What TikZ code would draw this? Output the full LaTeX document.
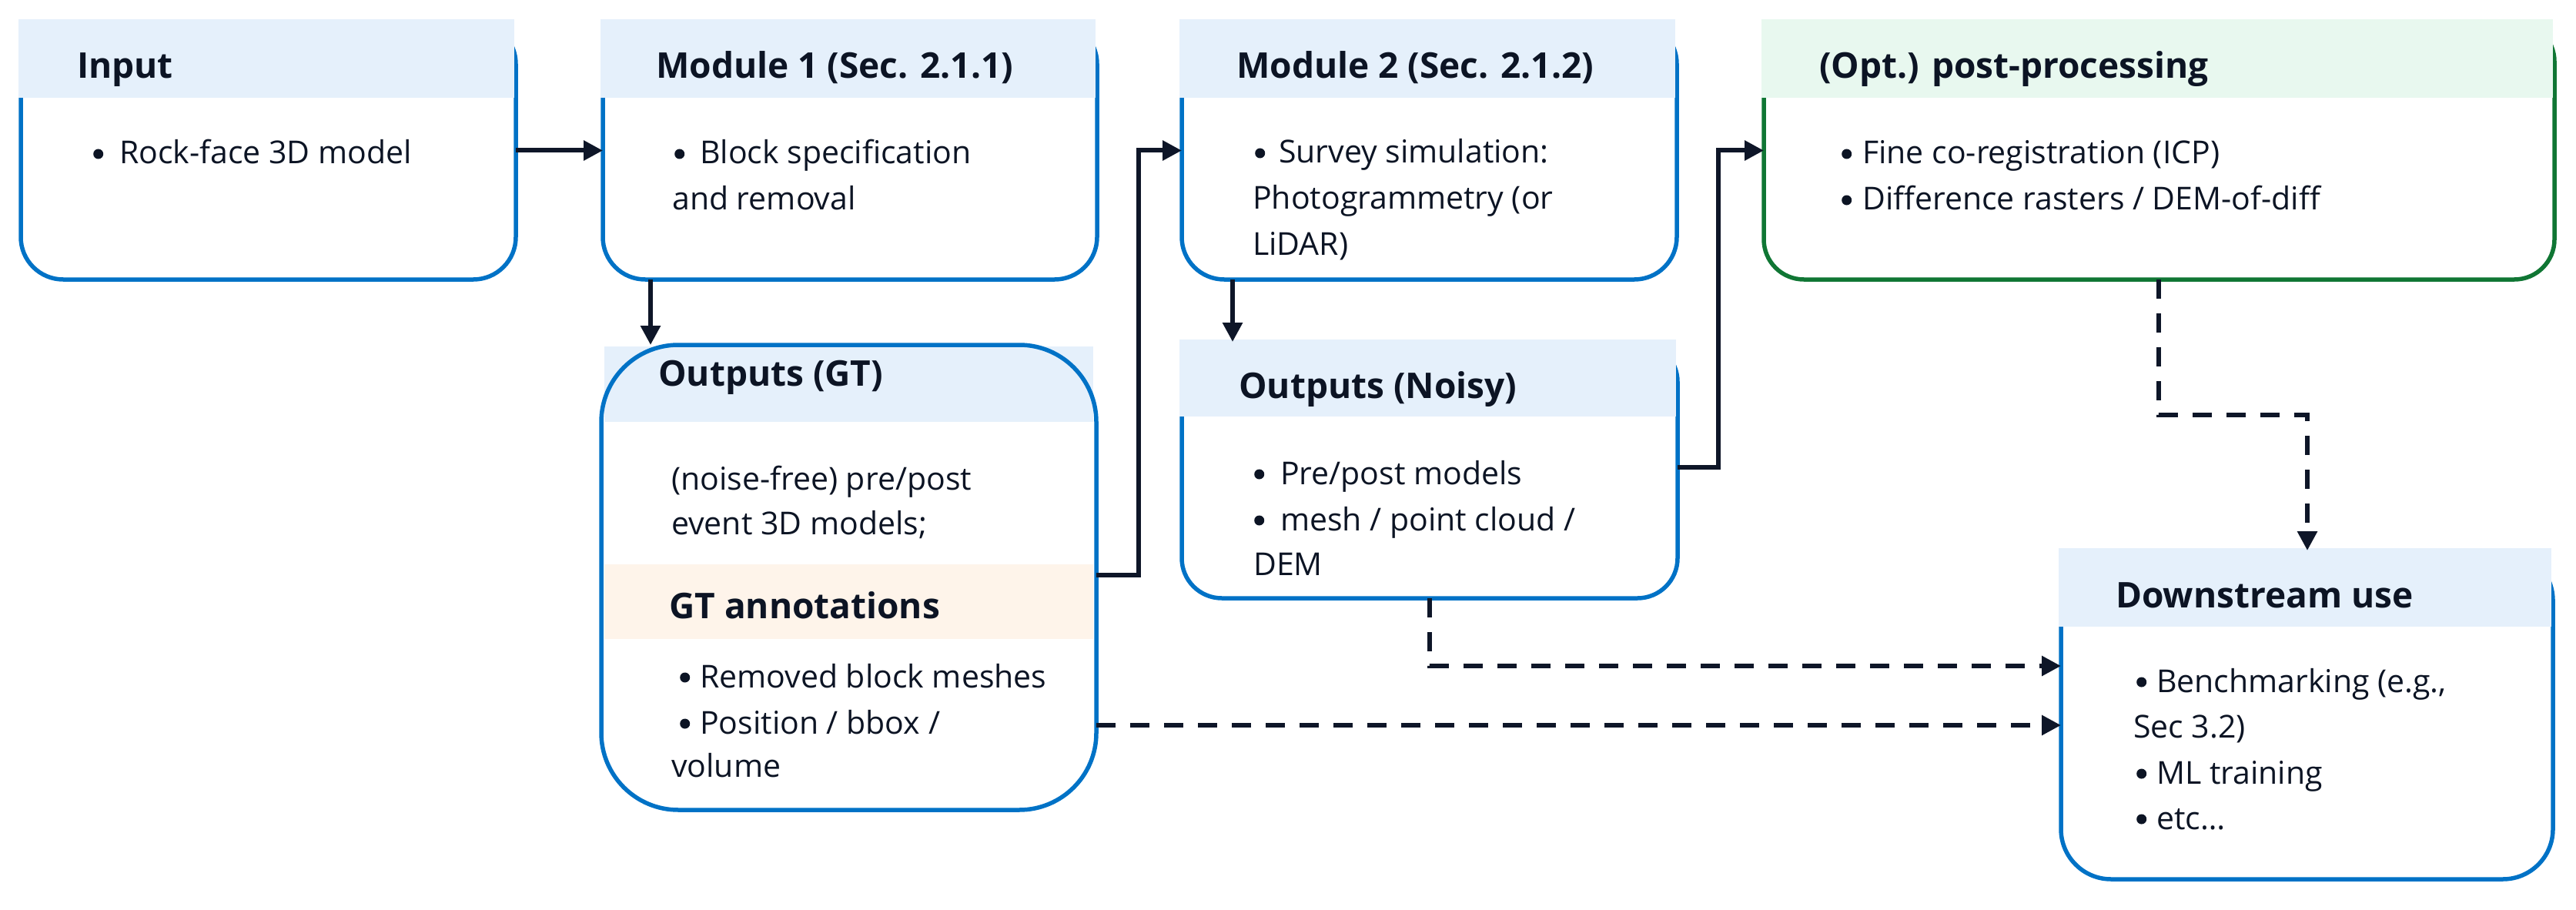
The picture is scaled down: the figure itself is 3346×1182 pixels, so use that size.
\documentclass[tikz,border=0pt]{standalone}
\usepackage{fontspec}
\setmainfont{Open Sans}
\usetikzlibrary{arrows.meta}
\definecolor{navy}{RGB}{14,22,40}
\definecolor{bblue}{RGB}{0,114,198}
\definecolor{bgreen}{RGB}{16,118,52}
\definecolor{hblue}{RGB}{229,240,251}
\definecolor{hgreen}{RGB}{232,248,239}
\definecolor{horange}{RGB}{254,244,234}
\definecolor{txt}{RGB}{12,20,36}
\newcommand\bul[1]{\makebox[#1pt][l]{\hspace{4pt}\raisebox{13pt}{\tikz[baseline=0pt]\fill[txt] (0pt,0pt) circle (6.5pt);}}}
\begin{document}
\begin{tikzpicture}[x=1pt,y=-1pt,
  bbox/.style={draw=bblue, line width=5.5pt, rectangle, inner sep=0pt, outer sep=0pt, anchor=north west},
  gbox/.style={bbox, draw=bgreen},
  hd/.style={anchor=base west, inner sep=0pt, text=txt, font=\fontsize{46pt}{60pt}\selectfont\bfseries},
  bd/.style={anchor=base west, inner sep=0pt, text=txt, font=\fontsize{41pt}{60pt}\selectfont},
  conn/.style={draw=navy, line width=6pt, -{Triangle[length=25pt,width=25pt]}},
  dconn/.style={conn, dash pattern=on 25pt off 19pt}]
\useasboundingbox (0,0) rectangle (3346,1182);

% ---- boxes with header bands
\node[bbox, rounded corners=55pt, minimum width=643pt, minimum height=335pt] (input) at (27,28) {};
\fill[hblue] (24,25) rectangle (668,127);
\node[bbox, rounded corners=55pt, minimum width=642pt, minimum height=335pt] (mod1) at (783,28) {};
\fill[hblue] (780,25) rectangle (1423,127);
\node[bbox, rounded corners=55pt, minimum width=643pt, minimum height=335pt] (mod2) at (1535,28) {};
\fill[hblue] (1532,25) rectangle (2176,127);
\node[gbox, rounded corners=52pt, minimum width=1027pt, minimum height=335pt] (opt) at (2291,28) {};
\fill[hgreen] (2288,25) rectangle (3316,127);
\fill[hblue] (785,450) rectangle (1420,548);
\fill[horange] (785,733) rectangle (1420,830);
\node[bbox, rounded corners=100pt, minimum width=643pt, minimum height=604pt] (gt) at (781,448) {};
\node[bbox, rounded corners=52pt, minimum width=644pt, minimum height=333pt] (noisy) at (1535,444) {};
\fill[hblue] (1532,441) rectangle (2177,541);
\node[bbox, rounded corners=65pt, minimum width=639pt, minimum height=427pt] (down) at (2677,715) {};
\fill[hblue] (2674,712) rectangle (3314,814);

% ---- headers
\node[hd] (inputT) at (100,102) {Input};
\node[hd] (mod1T) at (852,102) {Module 1 (Sec. 2.1.1)};
\node[hd] (mod2T) at (1606,102) {Module 2 (Sec. 2.1.2)};
\node[hd] (optT) at (2363,102) {(Opt.) post-processing};
\node[hd] (gtT) at (855,501) {Outputs (GT)};
\node[hd] (noisyT) at (1609,517) {Outputs (Noisy)};
\node[hd] (gtA) at (869,803) {GT annotations};
\node[hd] (downT) at (2748,789) {Downstream use};

% ---- body texts
\node[bd] (in1) at (117,213) {\bul{38}Rock-face 3D model};
\node[bd] (m1a) at (872,213) {\bul{37}Block specification};
\node[bd] (m1b) at (873,273) {and removal};
\node[bd] (m2a) at (1626,212) {\bul{35}Survey simulation:};
\node[bd] (m2b) at (1627,272) {Photogrammetry (or};
\node[bd] (m2c) at (1627,331) {LiDAR)};
\node[bd] (opa) at (2388,213) {\bul{31}Fine co-registration (ICP)};
\node[bd] (opb) at (2388,273) {\bul{31}Difference rasters / DEM-of-diff};
\node[bd] (gta) at (872,636) {(noise-free) pre/post};
\node[bd] (gtb) at (872,694) {event 3D models;};
\node[bd] (gtc) at (879,893) {\bul{30}Removed block meshes};
\node[bd] (gtd) at (879,953) {\bul{30}Position / bbox /};
\node[bd] (gte) at (872,1009) {volume};
\node[bd] (noa) at (1625,629) {\bul{38}Pre/post models};
\node[bd] (nob) at (1625,689) {\bul{38}mesh / point cloud /};
\node[bd] (noc) at (1628,747) {DEM};
\node[bd] (dwa) at (2771,899) {\bul{30}Benchmarking (e.g.,};
\node[bd] (dwb) at (2771,958) {Sec 3.2)};
\node[bd] (dwc) at (2771,1018) {\bul{30}ML training};
\node[bd] (dwd) at (2771,1077) {\bul{30}etc…};

% ---- connectors
\draw[conn] (input) -- (mod1);
\draw[conn] (mod1.south -| 845,0) -- (gt.north -| 845,0);
\draw[conn] (gt.east |- 0,747) -- (1479,747) |- (mod2.west);
\draw[conn] (mod2.south -| 1601,0) -- (noisy.north -| 1601,0);
\draw[conn] (noisy.east |- 0,607) -- (2232,607) |- (opt.west);
\draw[dconn] (opt.south -| 2804,0) -- (2804,539) -| (down.north -| 2997,0);
\draw[dconn] (noisy.south -| 1857,0) -- (1857,865) -- (down.west |- 0,865);
\draw[dconn] (gt.east |- 0,942) -- (down.west |- 0,942);
\end{tikzpicture}
\end{document}
